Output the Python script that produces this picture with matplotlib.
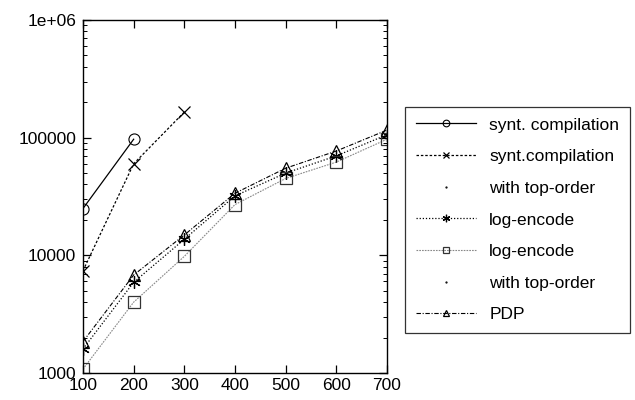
import numpy as np
import matplotlib.pyplot as plt
from matplotlib.ticker import FixedLocator, LogLocator, NullFormatter

plt.rcParams['font.family'] = ['Liberation Sans', 'DejaVu Sans']

# donnees
x_synt1 = [100, 200]
y_synt1 = [25000, 97000]

x_synt2 = [100, 200, 300]
y_synt2 = [7400, 60000, 165000]

x_all = [100, 200, 300, 400, 500, 600, 700]
y_log1 = [1600, 5900, 13700, 32000, 50000, 70000, 106000]
y_log2 = [1080, 4000, 9800, 27000, 45000, 62000, 97000]
y_pdp = [1850, 6800, 14900, 33700, 55000, 77000, 116000]

x_ticks = [100, 200, 300, 400, 500, 600, 700]
y_ticks = [1000, 10000, 100000, 1000000]
y_tick_labels = ['1000', '10000', '100000', '1e+06']

fig = plt.figure(figsize=(6.35, 4.0), dpi=100)
ax = fig.add_axes([0.1307, 0.0675, 0.4787, 0.8825])

ax.plot(x_synt1, y_synt1, color='black', lw=0.9, marker='o', ms=8,
        mfc='none', mew=0.8, label='synt. compilation')
ax.plot(x_synt2, y_synt2, color='black', lw=0.9, ls=(0, (2, 1.5)), marker='x',
        ms=8, mew=0.9, label='synt.compilation')
ax.plot([], [], ls='none', marker='.', ms=2, color='black', label='with top-order')
ax.plot(x_all, y_log1, color='black', lw=0.9, ls=(0, (1, 1.5)), marker=(6, 2, 0),
        ms=9, mew=0.9, label='log-encode')
ax.plot(x_all, y_log2, color='#888888', lw=0.8, ls=(0, (1.5, 1)), marker='s', ms=8,
        mfc='none', mec='#333333', mew=0.9, label='log-encode')
ax.plot([], [], ls='none', marker='.', ms=2, color='black', label='with top-order')
ax.plot(x_all, y_pdp, color='black', lw=0.8, ls=(0, (4, 1.5, 1, 1.5)), marker='^',
        ms=8, mfc='none', mew=0.9, label='PDP')

ax.set_yscale('log')
ax.set_xlim(100, 700)
ax.set_ylim(1000, 1000000)
ax.xaxis.set_major_locator(FixedLocator(x_ticks))
ax.set_xticklabels([str(v) for v in x_ticks])
ax.yaxis.set_major_locator(FixedLocator(y_ticks))
ax.set_yticklabels(y_tick_labels)
ax.yaxis.set_minor_locator(LogLocator(base=10, subs=np.arange(2, 10)))
ax.yaxis.set_minor_formatter(NullFormatter())
ax.tick_params(which='both', direction='in', top=True, right=True, labelsize=12.5)
ax.tick_params(which='major', length=6, width=0.9)
ax.tick_params(which='minor', length=3, width=0.7)
ax.tick_params(axis='y', pad=5)
for s in ax.spines.values():
    s.set_linewidth(1.0)

leg = ax.legend(loc='upper left', bbox_to_anchor=(0.638, 0.7325),
                bbox_transform=fig.transFigure, fontsize=12.5, frameon=True,
                fancybox=False, edgecolor='black', handlelength=3.5,
                handletextpad=0.75, labelspacing=0.95, markerscale=0.6,
                borderpad=0.6, borderaxespad=0)
leg.get_frame().set_linewidth(0.9)

fig.savefig('out.png', dpi=100)
